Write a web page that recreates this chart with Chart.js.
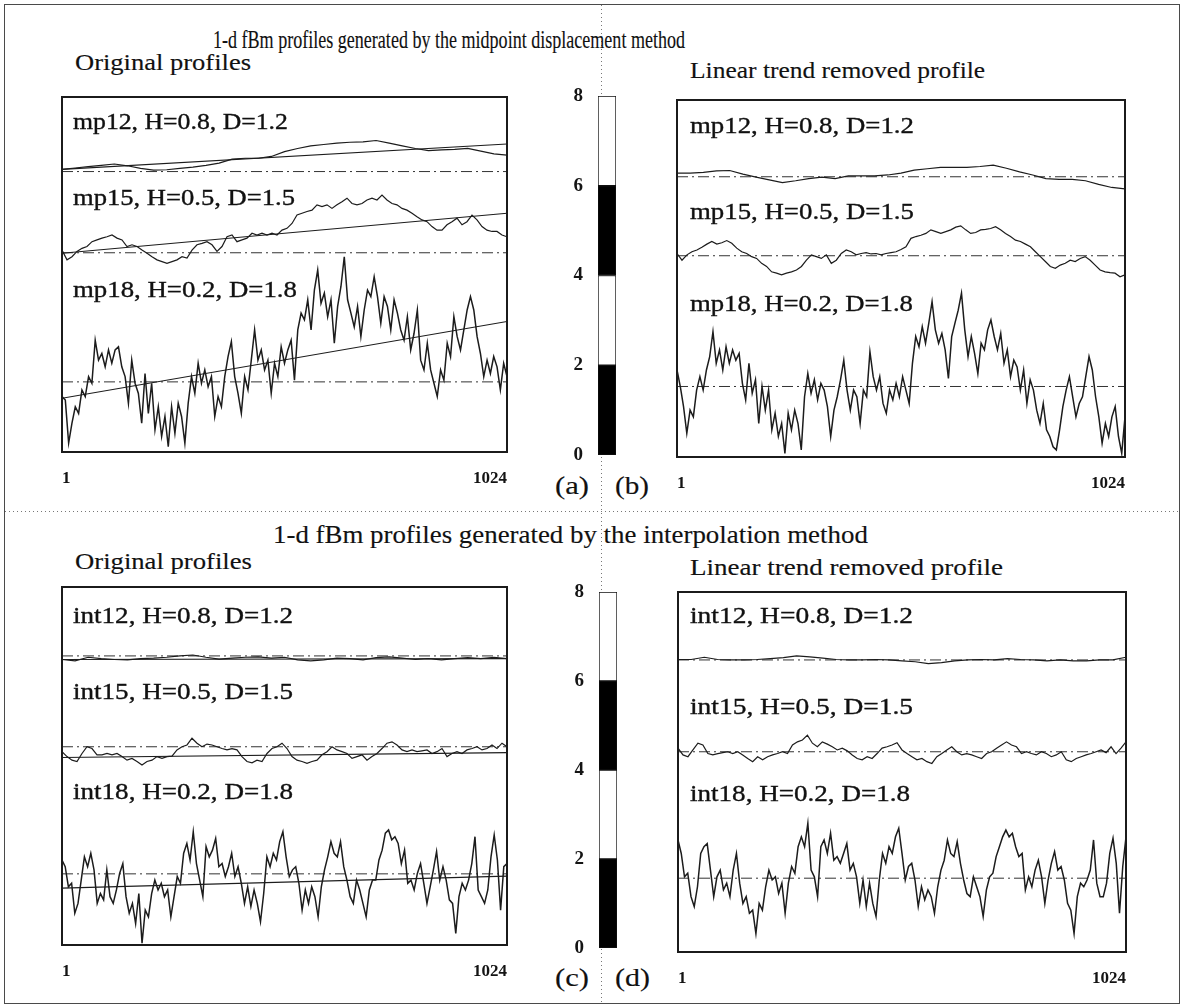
<!DOCTYPE html>
<html>
<head>
<meta charset="utf-8">
<script src="https://cdn.jsdelivr.net/npm/chart.js@4.4.1/dist/chart.umd.min.js"></script>
<style>
  html, body { margin: 0; padding: 0; background: #fff; }
  #page { position: relative; width: 1184px; height: 1008px; overflow: hidden; background: #fff;
          font-family: 'Liberation Serif', 'Times New Roman', serif; color: #111; }
  .frame { position: absolute; left: 4px; top: 4px; width: 1174px; height: 998px; border: 1.5px solid #4a4a4a; }
  .vdots { position: absolute; left: 601px; top: 5px; width: 1px; height: 998px;
           background: repeating-linear-gradient(to bottom, #777 0 1px, transparent 1px 4px); }
  .hdots { position: absolute; left: 5px; top: 511px; height: 1px; width: 1174px;
           background: repeating-linear-gradient(to right, #777 0 1px, transparent 1px 4px); }
  canvas { position: absolute; }
  .txt { position: absolute; white-space: nowrap; transform-origin: 0 50%; }
  .heavy { -webkit-text-stroke: 0.35px #111; }
  .light { -webkit-text-stroke: 0.15px #111; }
</style>
</head>
<body>
<div id="page">
  <div class="frame"></div>
  <div class="vdots"></div>
  <div class="hdots"></div>
</div>
<script>
// ---- sample positions along each profile run from 1 to 1024 ----
const xTicks = [1, 1024];
const bandTicks = [0, 2, 4, 6, 8];
const bandHeights = [2, 2, 2, 2];
const bandColors = ['#000000', '#ffffff', '#000000', '#ffffff'];

// ---- midpoint displacement: original profiles ----
const mp12Orig = [6.37,6.40,6.43,6.46,6.49,6.45,6.39,6.35,6.36,6.39,6.42,6.46,6.51,6.60,6.62,6.62,6.66,6.77,6.84,6.90,
  6.93,6.96,6.98,6.99,7.02,6.96,6.90,6.84,6.79,6.81,6.82,6.84,6.78,6.72,6.69];
const mp12Trend = [6.37, 6.94];
const mp12Level = 6.32;

const mp15Orig = [4.55,4.33,4.40,4.52,4.59,4.63,4.74,4.78,4.82,4.85,
  4.89,4.82,4.78,4.63,4.67,4.63,4.55,4.48,4.40,4.33,
  4.29,4.25,4.29,4.33,4.40,4.37,4.55,4.67,4.70,4.74,
  4.67,4.52,4.63,4.85,4.89,4.74,4.78,4.82,4.93,4.89,
  4.93,4.89,4.93,4.89,5.00,5.04,5.15,5.34,5.38,5.42,
  5.45,5.57,5.53,5.57,5.49,5.57,5.64,5.72,5.60,5.57,
  5.60,5.68,5.72,5.68,5.79,5.68,5.60,5.57,5.49,5.45,
  5.38,5.30,5.23,5.19,5.08,5.00,5.00,5.12,5.19,5.27,
  5.12,5.19,5.34,5.23,5.08,5.00,4.97,4.97,4.89,4.85];
const mp15Trend = [4.48, 5.38];
const mp15Level = 4.49;

const mp18Orig = [1.25,1.17,0.20,0.65,1.02,0.87,1.40,1.25,1.70,1.55,
  2.52,2.07,2.22,1.92,2.30,2.00,2.30,2.37,1.92,1.70,
  1.10,2.07,1.55,1.32,0.65,1.77,0.87,1.55,0.50,1.02,
  0.35,0.80,0.12,1.02,0.42,1.10,0.80,0.20,1.10,1.70,
  1.32,2.00,1.55,1.85,1.47,1.70,0.80,1.25,1.02,1.70,
  2.15,2.49,1.70,1.32,0.87,1.70,1.40,2.07,2.75,2.07,
  2.30,1.85,2.07,1.32,2.00,1.70,2.37,2.00,2.30,2.52,
  1.62,2.75,3.13,2.98,3.43,2.75,3.65,4.10,3.35,3.58,
  3.05,3.43,2.45,3.28,3.73,4.40,3.43,3.13,2.82,3.28,
  2.60,3.20,3.65,3.50,3.95,3.50,2.90,3.50,3.28,2.75,
  3.43,3.13,2.75,2.52,3.05,2.30,2.67,3.20,2.07,1.85,
  2.45,1.85,1.55,1.25,1.85,1.62,2.45,2.15,3.05,2.60,
  2.30,2.75,3.20,3.50,3.20,2.60,2.22,1.70,2.07,1.77,
  2.15,1.92,1.40,2.00,1.70];
const mp18Trend = [1.21, 2.94];
const mp18Level = 1.58;

// ---- midpoint displacement: linear trend removed ----
const mp12Flat = [6.36,6.36,6.38,6.41,6.42,6.34,6.27,6.21,6.15,6.19,
  6.24,6.27,6.24,6.30,6.30,6.30,6.32,6.36,6.43,6.46,
  6.49,6.49,6.49,6.51,6.54,6.47,6.39,6.32,6.24,6.22,
  6.22,6.19,6.11,6.04,6.01];
const mp12FlatLevel = 6.28;

const mp15Flat = [4.56,4.41,4.53,4.60,4.64,4.70,4.77,4.83,4.77,4.80,
  4.85,4.79,4.68,4.60,4.56,4.49,4.45,4.34,4.27,4.15,
  4.12,4.08,4.12,4.15,4.19,4.27,4.41,4.53,4.49,4.45,
  4.53,4.34,4.41,4.56,4.64,4.60,4.53,4.56,4.58,4.55,
  4.56,4.53,4.56,4.58,4.60,4.65,4.71,4.90,4.94,4.97,
  5.01,5.09,5.05,5.01,5.05,5.09,5.15,5.18,5.09,5.01,
  5.03,5.09,5.10,5.12,5.16,5.09,5.01,4.94,4.86,4.83,
  4.77,4.71,4.60,4.49,4.38,4.27,4.23,4.30,4.34,4.41,
  4.38,4.45,4.49,4.41,4.30,4.19,4.15,4.13,4.12,4.04,
  4.08];
const mp15FlatLevel = 4.51;

const mp18Flat = [1.95,1.58,1.13,0.53,1.05,0.90,1.50,1.80,1.50,1.95,
  2.25,2.81,2.10,2.40,1.95,2.47,2.10,2.40,2.17,2.32,
  1.65,1.28,2.10,1.43,1.73,0.75,1.58,1.05,1.50,0.61,
  0.98,0.46,0.75,0.08,0.98,0.61,1.05,0.75,0.16,1.35,
  1.87,1.43,1.73,1.28,1.65,1.50,1.13,0.46,1.05,1.35,
  1.73,2.17,1.50,1.05,1.50,1.35,0.75,1.50,1.35,2.36,
  1.80,1.50,1.80,1.20,0.98,1.50,1.28,1.65,1.35,1.80,
  1.50,1.20,2.10,2.70,2.47,2.92,2.55,3.00,3.48,2.85,
  2.55,2.77,2.40,1.76,2.70,3.00,3.29,3.67,2.85,2.25,
  2.70,2.32,1.87,2.55,2.40,2.85,3.07,2.70,2.40,2.77,
  2.10,2.40,1.80,2.17,2.02,1.50,1.95,1.20,1.73,1.50,
  1.05,0.75,1.20,0.61,0.46,0.23,0.16,0.61,1.13,1.50,
  1.80,1.35,0.90,1.20,1.35,1.80,2.25,1.95,1.35,0.90,
  0.31,0.75,0.46,0.90,1.13,0.46,0.08,0.90];
const mp18FlatLevel = 1.58;

// ---- interpolation: original profiles ----
const int12Orig = [6.38,6.35,6.43,6.40,6.38,6.37,6.40,6.41,6.43,6.46,
  6.48,6.43,6.39,6.41,6.43,6.44,6.41,6.43,6.37,6.35,
  6.37,6.41,6.40,6.37,6.42,6.44,6.41,6.38,6.40,6.37,
  6.40,6.42,6.40,6.43,6.40];
const int12Trend = [6.38, 6.40];
const int12Level = 6.46;

const int15Orig = [4.32,4.21,4.13,4.10,4.28,4.43,4.39,4.25,4.25,4.28,
  4.25,4.28,4.21,4.13,4.17,4.10,4.02,4.10,4.13,4.21,
  4.17,4.21,4.22,4.36,4.43,4.47,4.62,4.51,4.43,4.49,
  4.47,4.43,4.39,4.36,4.39,4.36,4.21,4.10,4.07,4.13,
  4.10,4.28,4.39,4.43,4.51,4.39,4.21,4.13,4.10,4.06,
  4.10,4.13,4.25,4.32,4.43,4.36,4.32,4.28,4.17,4.21,
  4.25,4.13,4.21,4.28,4.39,4.51,4.54,4.47,4.36,4.32,
  4.36,4.32,4.34,4.36,4.28,4.32,4.39,4.21,4.28,4.32,
  4.28,4.36,4.39,4.43,4.36,4.39,4.47,4.39,4.51,4.43];
const int15Trend = [4.19, 4.30];
const int15Level = 4.43;

const int18Orig = [1.90,1.75,1.30,1.38,0.71,0.93,1.45,1.97,1.75,2.05,
  1.68,0.93,1.15,1.01,1.68,1.08,0.93,1.23,1.60,1.82,
  1.08,0.71,0.93,0.48,1.15,0.04,0.78,0.63,1.15,1.45,
  1.23,1.38,1.08,1.23,0.63,1.08,1.53,1.38,2.05,2.27,
  1.90,2.53,1.82,1.45,1.08,2.20,1.97,2.12,2.38,1.75,
  1.82,1.53,1.75,2.05,1.53,1.75,1.38,0.93,1.30,0.86,
  1.23,0.93,0.52,1.15,1.97,1.75,2.05,1.90,2.31,2.53,
  1.97,1.53,1.68,1.75,1.38,0.78,1.23,0.93,1.30,1.08,
  0.63,1.30,1.68,1.97,2.31,2.05,1.97,2.31,1.75,1.45,
  1.08,0.93,1.45,1.23,0.93,0.63,1.23,1.45,1.45,1.90,
  2.12,2.50,2.57,2.35,2.42,2.27,1.82,2.12,1.38,1.45,
  1.23,1.60,1.82,1.38,0.93,1.30,1.68,2.09,1.45,1.75,
  1.45,1.01,0.93,0.26,1.08,1.38,1.23,1.45,1.82,2.42,
  1.23,1.08,0.93,1.23,1.97,2.46,1.90,0.78,1.75,1.82];
const int18Trend = [1.27, 1.54];
const int18Level = 1.59;

// ---- interpolation: linear trend removed ----
const int12Flat = [6.50,6.50,6.55,6.50,6.49,6.49,6.50,6.52,6.54,6.58,
  6.56,6.53,6.50,6.49,6.49,6.50,6.49,6.47,6.45,6.41,
  6.43,6.47,6.49,6.50,6.49,6.52,6.50,6.49,6.47,6.49,
  6.47,6.47,6.49,6.49,6.55];
const int12FlatLevel = 6.49;

const int15Flat = [4.53,4.38,4.34,4.49,4.64,4.60,4.41,4.38,4.41,4.43,
  4.45,4.41,4.45,4.38,4.30,4.23,4.34,4.27,4.34,4.38,
  4.41,4.45,4.41,4.60,4.67,4.71,4.82,4.64,4.56,4.67,
  4.62,4.56,4.49,4.53,4.47,4.38,4.30,4.27,4.34,4.30,
  4.41,4.53,4.56,4.60,4.65,4.49,4.41,4.34,4.27,4.30,
  4.23,4.19,4.34,4.41,4.49,4.56,4.45,4.38,4.41,4.38,
  4.34,4.30,4.41,4.45,4.53,4.60,4.67,4.60,4.56,4.41,
  4.45,4.41,4.38,4.45,4.41,4.34,4.38,4.45,4.27,4.23,
  4.30,4.34,4.38,4.41,4.45,4.49,4.43,4.56,4.41,4.53,
  4.67];
const int15FlatLevel = 4.45;

const int18Flat = [2.49,2.19,1.67,1.75,1.23,1.01,1.45,2.19,2.34,2.41,
  1.82,1.23,1.67,1.82,1.38,1.53,1.23,1.82,2.19,1.53,
  1.08,1.23,0.86,0.93,0.41,1.08,0.93,1.45,1.82,1.60,
  1.67,1.30,1.53,0.86,1.53,1.90,1.75,2.34,2.56,2.34,
  2.86,1.82,1.67,1.23,2.34,2.49,2.19,2.64,2.04,2.12,
  1.97,2.19,2.41,1.82,1.97,1.67,1.08,1.60,1.01,1.53,
  1.08,0.79,1.60,2.19,1.97,2.34,2.19,2.56,2.75,2.19,
  1.60,1.90,1.97,1.60,1.01,1.45,1.16,1.38,1.23,0.86,
  1.45,1.82,2.04,2.49,2.19,2.12,2.45,1.97,1.60,1.30,
  1.23,1.67,1.45,1.23,0.79,1.38,1.67,1.75,2.12,2.34,
  2.56,2.71,2.56,2.64,2.34,2.12,2.19,1.38,1.67,1.45,
  1.82,2.04,1.67,1.08,1.60,1.97,2.23,1.82,1.90,1.60,
  1.08,0.93,0.41,1.23,1.53,1.45,1.60,1.82,2.49,1.53,
  1.23,1.23,1.53,2.19,2.53,1.97,0.86,1.90,2.56];
const int18FlatLevel = 1.64;

// ---------------------------------------------------------------
const FONT = "'Liberation Serif', 'Times New Roman', serif";
const page = document.getElementById('page');
const INK = '#1c1c1c';

function spread(values) {
  const n = values.length;
  return values.map((v, i) => ({ x: xTicks[0] + i * (xTicks[1] - xTicks[0]) / (n - 1), y: v }));
}
function profile(values, width) {
  return { data: spread(values), borderColor: INK, borderWidth: width || 1.2, pointRadius: 0, tension: 0, fill: false };
}
function trend(ends) {
  return { data: [{ x: xTicks[0], y: ends[0] }, { x: xTicks[1], y: ends[1] }],
           borderColor: INK, borderWidth: 1.1, pointRadius: 0, tension: 0, fill: false };
}
function level(v) {
  return { data: [{ x: xTicks[0], y: v }, { x: xTicks[1], y: v }],
           borderColor: '#333', borderWidth: 1, borderDash: [11, 4, 2, 4], pointRadius: 0, tension: 0, fill: false };
}
function noPad(s) { s.paddingLeft = 0; s.paddingRight = 0; s.paddingTop = 0; s.paddingBottom = 0; }

const boxPlugin = {
  id: 'panelBox',
  afterDatasetsDraw(chart) {
    const a = chart.chartArea, ctx = chart.ctx;
    ctx.save();
    ctx.strokeStyle = '#1b1b1b';
    ctx.lineWidth = 2;
    ctx.strokeRect(a.left, a.top, a.right - a.left, a.bottom - a.top);
    ctx.restore();
  }
};

function panel(box, datasets) {
  const pad = 10, axisH = 42;
  const c = document.createElement('canvas');
  c.width = box.r - box.l + 2 * pad;
  c.height = box.b - box.t + pad + axisH;
  c.style.left = (box.l - pad) + 'px';
  c.style.top = (box.t - pad) + 'px';
  page.appendChild(c);
  new Chart(c, {
    type: 'line',
    data: { datasets },
    options: {
      responsive: false, animation: false, events: [],
      layout: { padding: { left: pad, right: pad, top: pad, bottom: 0 } },
      plugins: { legend: { display: false }, tooltip: { enabled: false } },
      scales: {
        x: {
          type: 'linear', min: xTicks[0], max: xTicks[1],
          afterBuildTicks: s => { s.ticks = xTicks.map(v => ({ value: v })); },
          afterFit: s => { s.height = axisH; noPad(s); },
          ticks: { align: 'inner', padding: 16, color: '#141414', maxRotation: 0, autoSkip: false,
                   callback: v => String(v),
                   font: { family: FONT, size: 17, weight: 'bold' } },
          grid: { display: false, drawTicks: false },
          border: { display: false }
        },
        y: { display: false, min: 0, max: 8, afterFit: s => { s.width = 0; noPad(s); } }
      }
    },
    plugins: [boxPlugin]
  });
}

function colorBar(box) {
  const padV = 14, axisW = 40, padR = 2;
  const c = document.createElement('canvas');
  c.width = axisW + (box.r - box.l) + padR;
  c.height = box.b - box.t + 2 * padV;
  c.style.left = (box.l - axisW) + 'px';
  c.style.top = (box.t - padV) + 'px';
  page.appendChild(c);
  new Chart(c, {
    type: 'bar',
    data: {
      labels: [''],
      datasets: bandHeights.map((h, i) => ({
        data: [h], backgroundColor: bandColors[i], borderColor: '#111', borderWidth: 1,
        borderSkipped: false, barPercentage: 1, categoryPercentage: 1, stack: 'band'
      }))
    },
    options: {
      responsive: false, animation: false, events: [],
      layout: { padding: { top: padV, bottom: padV, left: 0, right: padR } },
      plugins: { legend: { display: false }, tooltip: { enabled: false } },
      scales: {
        x: { display: false, stacked: true, afterFit: s => { s.height = 0; noPad(s); } },
        y: {
          stacked: true, min: bandTicks[0], max: bandTicks[bandTicks.length - 1],
          afterBuildTicks: s => { s.ticks = bandTicks.map(v => ({ value: v })); },
          afterFit: s => { s.width = axisW; noPad(s); },
          ticks: { padding: 15, color: '#141414', font: { family: FONT, size: 19, weight: 'bold' } },
          grid: { display: false, drawTicks: false },
          border: { display: false }
        }
      }
    }
  });
}

// ---- panels ----
panel({ l: 62, r: 507, t: 97, b: 452 }, [
  profile(mp12Orig), trend(mp12Trend), level(mp12Level),
  profile(mp15Orig), trend(mp15Trend), level(mp15Level),
  profile(mp18Orig, 1.5), trend(mp18Trend), level(mp18Level)
]);
panel({ l: 677, r: 1125, t: 100, b: 457 }, [
  profile(mp12Flat), level(mp12FlatLevel),
  profile(mp15Flat), level(mp15FlatLevel),
  profile(mp18Flat, 1.5), level(mp18FlatLevel)
]);
panel({ l: 62, r: 507, t: 587, b: 945 }, [
  profile(int12Orig), trend(int12Trend), level(int12Level),
  profile(int15Orig), trend(int15Trend), level(int15Level),
  profile(int18Orig, 1.5), trend(int18Trend), level(int18Level)
]);
panel({ l: 678, r: 1126, t: 592, b: 952 }, [
  profile(int12Flat), level(int12FlatLevel),
  profile(int15Flat), level(int15FlatLevel),
  profile(int18Flat, 1.5), level(int18FlatLevel)
]);
colorBar({ l: 598, r: 616, t: 96, b: 455 });
colorBar({ l: 599, r: 617, t: 592, b: 948 });

// ---- text ----
const texts = [
  { t: '1-d fBm profiles generated by the midpoint displacement method', x: 213, y: 40, s: 26, w: 472, c: 'light' },
  { t: 'Original profiles', x: 75, y: 62, s: 24, w: 176, c: 'light' },
  { t: 'Linear trend removed profile', x: 690, y: 70, s: 24, w: 295, c: 'light' },
  { t: '1-d fBm profiles generated by the interpolation method', x: 273, y: 534, s: 25, w: 595, c: 'light' },
  { t: 'Original profiles', x: 75, y: 561, s: 24, w: 177, c: 'light' },
  { t: 'Linear trend removed profile', x: 690, y: 567, s: 24, w: 313, c: 'light' },

  { t: 'mp12, H=0.8, D=1.2', x: 73, y: 121, s: 23, w: 215, c: 'heavy' },
  { t: 'mp15, H=0.5, D=1.5', x: 73, y: 197, s: 23, w: 222, c: 'heavy' },
  { t: 'mp18, H=0.2, D=1.8', x: 73, y: 289, s: 23, w: 224, c: 'heavy' },
  { t: 'mp12, H=0.8, D=1.2', x: 690, y: 125, s: 23, w: 224, c: 'heavy' },
  { t: 'mp15, H=0.5, D=1.5', x: 690, y: 211, s: 23, w: 224, c: 'heavy' },
  { t: 'mp18, H=0.2, D=1.8', x: 690, y: 303, s: 23, w: 223, c: 'heavy' },

  { t: 'int12, H=0.8, D=1.2', x: 73, y: 615, s: 23, w: 220, c: 'heavy' },
  { t: 'int15, H=0.5, D=1.5', x: 73, y: 691, s: 23, w: 220, c: 'heavy' },
  { t: 'int18, H=0.2, D=1.8', x: 73, y: 791, s: 23, w: 220, c: 'heavy' },
  { t: 'int12, H=0.8, D=1.2', x: 690, y: 615, s: 23, w: 223, c: 'heavy' },
  { t: 'int15, H=0.5, D=1.5', x: 690, y: 706, s: 23, w: 223, c: 'heavy' },
  { t: 'int18, H=0.2, D=1.8', x: 690, y: 793, s: 23, w: 220, c: 'heavy' },

  { t: '(a)', x: 555, y: 486, s: 26, w: 34, c: 'light' },
  { t: '(b)', x: 615, y: 486, s: 26, w: 34, c: 'light' },
  { t: '(c)', x: 555, y: 978, s: 26, w: 34, c: 'light' },
  { t: '(d)', x: 615, y: 978, s: 26, w: 35, c: 'light' }
];
texts.forEach(o => {
  const d = document.createElement('div');
  d.className = 'txt ' + o.c;
  d.textContent = o.t;
  d.style.fontSize = o.s + 'px';
  d.style.lineHeight = o.s + 'px';
  d.style.left = o.x + 'px';
  d.style.top = (o.y - o.s / 2) + 'px';
  page.appendChild(d);
  const w = d.getBoundingClientRect().width;
  if (o.w && w > 0) d.style.transform = 'scaleX(' + (o.w / w).toFixed(3) + ')';
});
</script>
</body>
</html>
